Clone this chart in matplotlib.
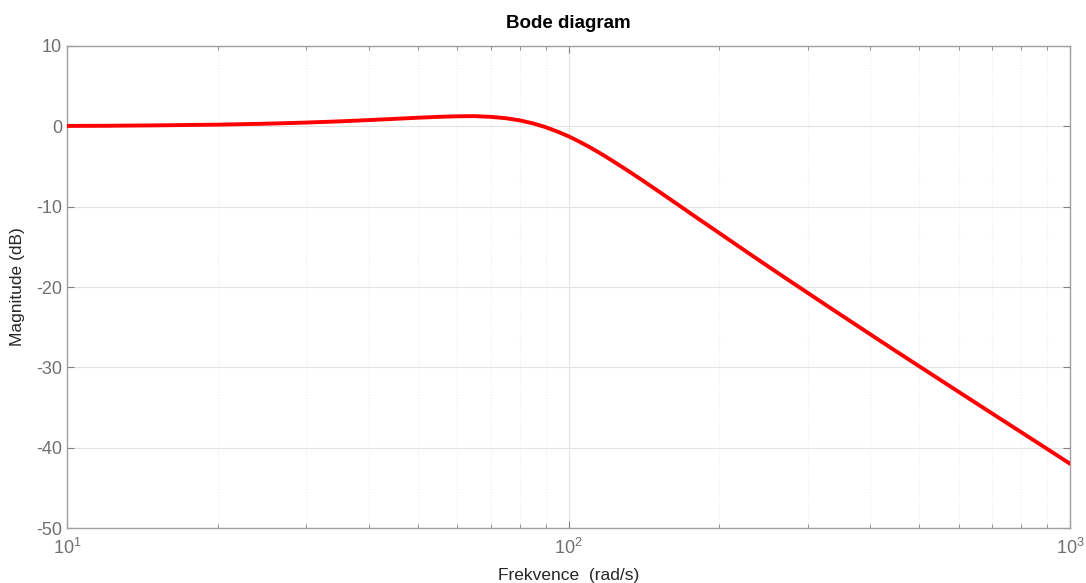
import numpy as np
import matplotlib.pyplot as plt
from matplotlib.ticker import LogLocator, FixedLocator

plt.rcParams['font.family'] = ['Liberation Sans', 'DejaVu Sans']
plt.rcParams['mathtext.fontset'] = 'custom'
plt.rcParams['mathtext.rm'] = 'Liberation Sans'

# frekvence (rad/s) a magnituda (dB)
freq = [10, 12, 15, 20, 25, 30, 35, 40, 45, 50, 55, 60, 65, 70, 75, 80, 85, 90,
        95, 100, 105, 110, 115, 120, 130, 140, 150, 166, 180, 200, 230, 260, 288,
        330, 400, 450, 512, 600, 700, 800, 900, 1000]
mag_db = [0.05, 0.07, 0.12, 0.21, 0.33, 0.47, 0.62, 0.78, 0.93, 1.07, 1.18, 1.25,
          1.27, 1.18, 1.01, 0.74, 0.36, -0.1, -0.65, -1.24, -1.89, -2.57, -3.26,
          -3.96, -5.34, -6.67, -7.94, -9.83, -11.35, -13.3, -15.9, -18.15, -20.0,
          -22.46, -25.9, -28.0, -30.27, -33.06, -35.76, -38.09, -40.15, -42.0]

yticks = [10, 0, -10, -20, -30, -40, -50]
xticks = [10, 100, 1000]
xtick_labels = [r'$\mathregular{10^{1}}$', r'$\mathregular{10^{2}}$', r'$\mathregular{10^{3}}$']

tick_col = '#707070'
fig = plt.figure(figsize=(10.86, 5.83), dpi=100)
ax = fig.add_axes([0.0617, 0.0943, 0.9236, 0.8268])

ax.semilogx(freq, mag_db, color='#ff0000', linewidth=2.8, solid_capstyle='round', zorder=3)

ax.set_xlim(10, 1000)
ax.set_ylim(-50, 10)
ax.set_yticks(yticks)
ax.set_yticklabels([str(v) for v in yticks])
ax.xaxis.set_major_locator(FixedLocator(xticks))
ax.set_xticklabels(xtick_labels)
ax.xaxis.set_minor_locator(LogLocator(base=10, subs=np.arange(2, 10), numticks=20))
ax.xaxis.set_minor_formatter(plt.NullFormatter())

ax.grid(which='major', color='#e3e3e3', linewidth=0.8, linestyle='-')
ax.grid(which='minor', axis='x', color='#ebebeb', linewidth=0.8, linestyle=':')
ax.set_axisbelow(True)

for s in ax.spines.values():
    s.set_color('#a0a0a0')
    s.set_linewidth(1.0)

ax.tick_params(which='both', direction='in', top=True, right=True, colors='#808080',
               labelcolor=tick_col, labelsize=13)
ax.tick_params(which='major', length=5)
ax.tick_params(which='minor', length=3)
ax.tick_params(axis='x', pad=7)

ax.set_title('Bode diagram', fontsize=13.5, fontweight='bold', pad=13)
ax.set_xlabel('Frekvence  (rad/s)', fontsize=12.5, color='#262626', labelpad=7)
ax.set_ylabel('Magnitude (dB)', fontsize=12.5, color='#262626', labelpad=8)

fig.savefig('out.png', dpi=100)
